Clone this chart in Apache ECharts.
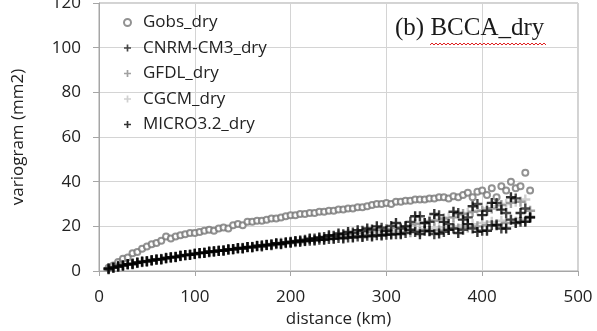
<!DOCTYPE html>
<html>
<head>
<meta charset="utf-8">
<script src="https://cdn.jsdelivr.net/npm/echarts@6/dist/echarts.min.js"></script>
<style>html,body{margin:0;padding:0;background:#fff}#c{width:597px;height:331px}</style>
</head>
<body>
<div id="c"></div>
<script>
const xTicks = [0, 100, 200, 300, 400, 500];
const yTicks = [0, 20, 40, 60, 80, 100, 120];
const distances = [10,15,20,25,30,35,40,45,50,55,60,65,70,75,80,85,90,95,100,105,110,115,120,125,130,135,140,145,150,155,160,165,170,175,180,185,190,195,200,205,210,215,220,225,230,235,240,245,250,255,260,265,270,275,280,285,290,295,300,305,310,315,320,325,330,335,340,345,350,355,360,365,370,375,380,385,390,395,400,405,410,415,420,425,430,435,440,445,450];
const gobs = [1.5,2.5,4,5.5,6,8,8.5,10,11,12,12.5,13.5,15.5,14.5,15.5,16,16.5,17,17,17.5,18,18.5,18,19,19.5,19,20.5,21,20.5,22,22,22.5,22.5,23,23.5,23.5,24,24.5,25,25,25.5,25.5,26,26,26.5,26.5,27,27,27.5,27.5,28,28,28.5,28.5,29,29.5,30,30,30.5,30,31,31,31.5,31.5,32,32,32,32.5,32.5,33,33,32.5,33.5,33,34,35,33,35.5,36,34,37,33,38,36,40,37,38,44,36];
const cnrm = [1.2,1.6,2.3,2.4,3.1,3.2,3.8,4.1,4.2,4.9,5.1,5.2,5.9,6.1,6.2,6.9,7.1,7.2,7.8,8.0,8.1,8.7,8.6,9.2,9.1,9.7,9.6,10.2,10.1,10.8,10.5,11.3,11.0,11.8,11.5,12.4,12.0,12.9,12.5,13.4,13.0,14.0,13.5,14.6,14.0,15.2,14.3,15.8,14.8,16.5,15.0,17.2,15.5,18.0,15.8,18.6,16.0,19.4,16.2,20.2,16.5,19.0,17.0,22.0,17.5,24.5,18.0,22.0,16.5,25.0,17.5,21.0,19.0,26.0,18.5,24.0,19.0,30.0,18.0,27.0,20.5,30.5,19.0,26.0,23.0,32.5,22.0,28.0,24.0];
const gfdl = [1.0,1.8,2.0,2.7,2.9,3.5,3.7,3.9,4.5,4.6,5.0,5.5,5.6,6.0,6.5,6.6,7.0,7.4,7.5,8.0,8.3,8.3,8.9,9.0,9.3,9.5,9.9,10.0,10.4,10.5,10.9,11.0,11.5,11.5,12.1,12.0,12.7,12.4,13.2,12.9,13.8,13.3,14.3,13.8,14.9,14.2,15.5,14.6,16.0,15.0,16.6,15.3,17.0,15.6,17.6,16.0,18.2,16.3,18.8,16.8,19.5,17.0,20.0,17.3,21.0,17.6,21.5,18.0,22.5,18.2,23.5,18.5,24.0,19.0,25.5,19.5,26.5,20.0,27.0,20.5,28.0,21.0,29.5,21.5,30.5,22.0,31.0,22.5,27.0];
const cgcm = [1.1,1.4,2.1,2.6,2.8,3.4,3.5,4.0,4.3,4.8,4.9,5.4,5.8,5.9,6.4,6.8,6.9,7.3,7.7,7.8,8.2,8.5,8.7,9.1,9.4,9.4,9.8,10.1,10.3,10.6,10.7,11.1,11.2,11.7,11.8,12.2,12.3,12.8,12.8,13.3,13.4,13.8,14.0,14.2,14.5,14.8,15.0,15.4,15.6,16.0,16.0,16.5,16.4,17.0,16.8,17.8,17.0,18.5,17.4,19.0,17.8,19.6,18.0,20.5,18.4,21.5,18.8,22.5,19.0,23.0,19.5,24.0,20.0,25.0,20.5,26.0,21.0,27.0,21.5,28.0,22.0,29.0,22.5,30.0,23.0,31.0,23.5,32.0,24.5];
const micro = [0.8,1.5,1.9,2.5,3.0,3.0,3.7,4.2,4.4,4.7,5.2,5.3,5.7,6.2,6.3,6.7,7.2,7.3,7.6,8.1,8.2,8.6,8.8,9.0,9.2,9.6,9.8,10.3,10.2,10.7,10.8,11.2,11.4,11.6,11.9,12.3,12.2,12.7,13.0,13.2,13.6,13.4,14.5,13.7,15.0,14.0,16.0,14.4,16.8,14.6,17.5,15.0,18.3,15.2,19.0,15.5,20.0,15.9,18.0,16.3,21.5,16.5,20.0,18.5,24.5,16.5,21.5,17.8,25.5,16.8,22.0,18.4,26.5,17.0,23.0,21.0,29.0,17.5,25.0,18.0,30.5,20.5,27.5,19.0,33.0,21.5,26.0,22.0,24.0];
const seriesNames = ['Gobs_dry','CNRM-CM3_dry','GFDL_dry','CGCM_dry','MICRO3.2_dry'];

const FONT = 'Open Sans';
const TXT = '#222';
const plus = 'path://M3.8,0H6.2V3.8H10V6.2H6.2V10H3.8V6.2H0V3.8H3.8Z';
const pairs = vals => distances.map((d, i) => [d, vals[i]]);

const chart = echarts.init(document.getElementById('c'), null, {renderer: 'canvas'});

// decorative red squiggle under title (spell-check underline)
const squiggle = [];
for (let x = 430, k = 0; x <= 546; x += 2, k++) squiggle.push([x, k % 2 ? 43 : 45]);

chart.setOption({
  animation: false,
  backgroundColor: '#fff',
  grid: {left: 99, right: 19, top: 3, bottom: 60, show: true, borderColor: '#a6a6a6', borderWidth: 1,
         containLabel: false, outerBoundsMode: 'none'},
  title: {
    text: '(b) BCCA_dry', left: 390, top: 11,
    textStyle: {fontFamily: 'Liberation Serif', fontSize: 25, fontWeight: 'normal', color: '#1a1a1a'}
  },
  graphic: [{type: 'polyline', shape: {points: squiggle}, style: {stroke: '#e02020', lineWidth: 1, fill: null}, z: 100}],
  legend: {
    orient: 'vertical', left: 118, top: 9, itemWidth: 7, itemHeight: 7, itemGap: 8.5,
    textStyle: {fontFamily: FONT, fontSize: 17, color: TXT, lineHeight: 17, padding: [0, 0, 0, 7]},
    data: seriesNames
  },
  xAxis: {
    type: 'value', min: xTicks[0], max: xTicks[xTicks.length - 1], interval: 100,
    name: 'distance (km)', nameLocation: 'middle', nameGap: 40,
    nameTextStyle: {fontFamily: FONT, fontSize: 17, color: TXT},
    axisLine: {show: true, lineStyle: {color: '#a6a6a6', width: 1}},
    axisTick: {show: true, length: 5, lineStyle: {color: '#a6a6a6'}},
    axisLabel: {fontFamily: FONT, fontSize: 17, color: TXT, margin: 18},
    splitLine: {show: true, lineStyle: {color: '#d4d4d4', width: 1}}
  },
  yAxis: {
    type: 'value', min: yTicks[0], max: yTicks[yTicks.length - 1], interval: 20,
    name: 'variogram (mm2)', nameLocation: 'middle', nameGap: 72,
    nameTextStyle: {fontFamily: FONT, fontSize: 17, color: TXT},
    axisLine: {show: true, lineStyle: {color: '#a6a6a6', width: 1}},
    axisTick: {show: true, length: 6, lineStyle: {color: '#a6a6a6'}},
    axisLabel: {fontFamily: FONT, fontSize: 17, color: TXT, margin: 18},
    splitLine: {show: true, lineStyle: {color: '#d4d4d4', width: 1}}
  },
  series: [
    {name: seriesNames[0], type: 'scatter', symbol: 'emptyCircle', symbolSize: 6,
     itemStyle: {color: '#777', borderWidth: 1.3}, data: pairs(gobs)},
    {name: seriesNames[3], type: 'scatter', symbol: plus, symbolSize: 10,
     itemStyle: {color: '#c4c4c4'}, data: pairs(cgcm)},
    {name: seriesNames[2], type: 'scatter', symbol: plus, symbolSize: 10,
     itemStyle: {color: '#8a8a8a'}, data: pairs(gfdl)},
    {name: seriesNames[1], type: 'scatter', symbol: plus, symbolSize: 10,
     itemStyle: {color: '#1a1a1a'}, data: pairs(cnrm)},
    {name: seriesNames[4], type: 'scatter', symbol: plus, symbolSize: 10,
     itemStyle: {color: '#000'}, data: pairs(micro)}
  ]
});
</script>
</body>
</html>
